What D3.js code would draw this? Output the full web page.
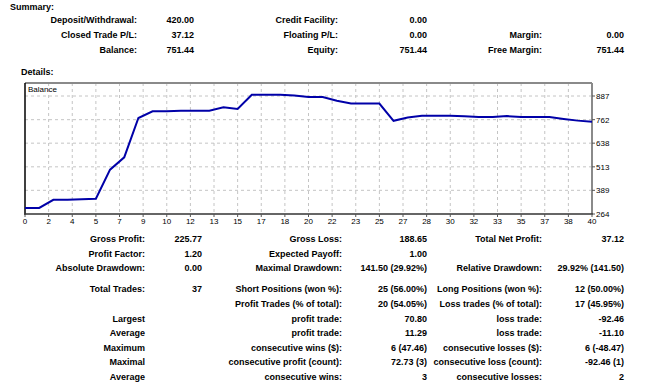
<!DOCTYPE html>
<html>
<head>
<meta charset="utf-8">
<script src="https://cdn.jsdelivr.net/npm/d3@7"></script>
<style>
  body { margin: 0; background: #fff; }
  svg text { font-family: "Liberation Sans", Arial, sans-serif; fill: #000; }
  .bold { font-weight: bold; font-size: 9px; }
  .axis { font-size: 8px; }
</style>
</head>
<body>
<div id="chart"></div>
<script>
// Balance curve (trade number, balance)
var trades  = [0, 1, 2, 3, 4, 5, 6, 7, 8, 9, 10, 11, 12, 13, 14, 15, 16, 17, 18, 19, 20,
               21, 22, 23, 24, 25, 26, 27, 28, 29, 30, 31, 32, 33, 34, 35, 36, 37, 38, 39, 40];
var balance = [296, 296, 339, 339, 342, 345, 498, 563, 771, 806, 806, 809, 809, 809, 827, 818, 894, 894, 894, 889, 882,
               882, 862, 847, 847, 847, 756, 774, 783, 783, 783, 780, 776, 776, 781, 776, 776, 776, 766, 757, 751.44];

// Axis tick labels
var xTickLabels = [0, 2, 4, 5, 7, 9, 10, 12, 13, 15, 17, 18, 20, 22, 23, 25, 27, 28, 30, 32, 33, 35, 37, 38, 40];
var yTickLabels = [264, 389, 513, 638, 762, 887];

// Summary rows: [label, value] for three column pairs
var summaryRows = [
  [["Deposit/Withdrawal:", "420.00"], ["Credit Facility:", "0.00"], ["", ""]],
  [["Closed Trade P/L:", "37.12"], ["Floating P/L:", "0.00"], ["Margin:", "0.00"]],
  [["Balance:", "751.44"], ["Equity:", "751.44"], ["Free Margin:", "751.44"]]
];

// Details table rows
var detailRows = [
  [["Gross Profit:", "225.77"], ["Gross Loss:", "188.65"], ["Total Net Profit:", "37.12"]],
  [["Profit Factor:", "1.20"], ["Expected Payoff:", "1.00"], ["", ""]],
  [["Absolute Drawdown:", "0.00"], ["Maximal Drawdown:", "141.50 (29.92%)"], ["Relative Drawdown:", "29.92% (141.50)"]],
  [["Total Trades:", "37"], ["Short Positions (won %):", "25 (56.00%)"], ["Long Positions (won %):", "12 (50.00%)"]],
  [["", ""], ["Profit Trades (% of total):", "20 (54.05%)"], ["Loss trades (% of total):", "17 (45.95%)"]],
  [["Largest", ""], ["profit trade:", "70.80"], ["loss trade:", "-92.46"]],
  [["Average", ""], ["profit trade:", "11.29"], ["loss trade:", "-11.10"]],
  [["Maximum", ""], ["consecutive wins ($):", "6 (47.46)"], ["consecutive losses ($):", "6 (-48.47)"]],
  [["Maximal", ""], ["consecutive profit (count):", "72.73 (3)"], ["consecutive loss (count):", "-92.46 (1)"]],
  [["Average", ""], ["consecutive wins:", "3"], ["consecutive losses:", "2"]]
];

var width = 650, height = 384;

var svg = d3.select("#chart")
  .append("svg")
    .attr("width", width)
    .attr("height", height);

svg.append("text").attr("class", "bold").attr("x", 10).attr("y", 10).text("Summary:");
svg.append("text").attr("class", "bold").attr("x", 21).attr("y", 75).text("Details:");

function drawTable(rows, rowY, colEdges) {
  rows.forEach(function(row, i) {
    row.forEach(function(cell, j) {
      svg.append("text").attr("class", "bold")
        .attr("x", colEdges[j][0]).attr("y", rowY[i])
        .attr("text-anchor", "end").text(cell[0]);
      svg.append("text").attr("class", "bold")
        .attr("x", colEdges[j][1]).attr("y", rowY[i])
        .attr("text-anchor", "end").text(cell[1]);
    });
  });
}

// column right edges: label end, value end
drawTable(summaryRows, [23, 38, 53], [[137, 194], [338, 427], [542, 624]]);
drawTable(detailRows, [241.5, 256.5, 271, 291.5, 306.5, 321.5, 336, 350.5, 365, 380],
          [[145, 202], [342, 427], [542, 624]]);

// Chart area
var chartLeft = 25, chartRight = 592, chartTop = 83, chartBottom = 214;

var x = d3.scaleLinear().domain([0, 40]).range([chartLeft, chartRight]);
var y = d3.scaleLinear().domain([264, 887]).range([chartBottom, 96]);

var g = svg.append("g");

// grid
var xStep = 40 / (xTickLabels.length - 1);
g.selectAll(".vgrid")
  .data(xTickLabels.slice(1, -1))
  .enter().append("line")
    .attr("x1", function(d, i) { return x((i + 1) * xStep); })
    .attr("x2", function(d, i) { return x((i + 1) * xStep); })
    .attr("y1", chartTop).attr("y2", chartBottom)
    .style("stroke", "#c4c4c4").style("stroke-dasharray", "3,3");

g.selectAll(".hgrid")
  .data(yTickLabels.slice(1))
  .enter().append("line")
    .attr("x1", chartLeft).attr("x2", chartRight)
    .attr("y1", function(d) { return y(d); })
    .attr("y2", function(d) { return y(d); })
    .style("stroke", "#c4c4c4").style("stroke-dasharray", "3,3");

// frame
g.append("line").attr("x1", chartLeft).attr("x2", chartRight).attr("y1", chartTop).attr("y2", chartTop)
  .style("stroke", "#8a8a8a").style("stroke-width", 2);
g.append("line").attr("x1", chartRight).attr("x2", chartRight).attr("y1", chartTop).attr("y2", chartBottom)
  .style("stroke", "#8a8a8a").style("stroke-width", 2);
g.append("line").attr("x1", chartLeft).attr("x2", chartLeft).attr("y1", chartTop).attr("y2", chartBottom + 1)
  .style("stroke", "#000").style("stroke-width", 1.5);
g.append("line").attr("x1", chartLeft).attr("x2", chartRight + 1).attr("y1", chartBottom).attr("y2", chartBottom)
  .style("stroke", "#333").style("stroke-width", 1.5);

// axis ticks and labels
g.selectAll(".xtick")
  .data(xTickLabels)
  .enter().append("line")
    .attr("x1", function(d, i) { return x(i * xStep); })
    .attr("x2", function(d, i) { return x(i * xStep); })
    .attr("y1", chartBottom).attr("y2", chartBottom + 3)
    .style("stroke", "#555");

g.selectAll(".xlabel")
  .data(xTickLabels)
  .enter().append("text")
    .attr("class", "axis")
    .attr("x", function(d, i) { return x(i * xStep); })
    .attr("y", chartBottom + 10)
    .attr("text-anchor", "middle")
    .text(function(d) { return d; });

g.selectAll(".ytick")
  .data(yTickLabels)
  .enter().append("line")
    .attr("x1", chartRight).attr("x2", chartRight + 3)
    .attr("y1", function(d) { return y(d); })
    .attr("y2", function(d) { return y(d); })
    .style("stroke", "#555");

g.selectAll(".ylabel")
  .data(yTickLabels)
  .enter().append("text")
    .attr("class", "axis")
    .attr("x", chartRight + 4)
    .attr("y", function(d) { return y(d) + 3; })
    .text(function(d) { return d; });

g.append("text").attr("class", "axis")
  .attr("x", chartLeft + 3).attr("y", chartTop + 9).text("Balance");

// balance line
var line = d3.line()
  .x(function(d, i) { return x(trades[i]); })
  .y(function(d) { return y(d); });

g.append("path")
  .datum(balance)
  .attr("d", line)
  .style("fill", "none")
  .style("stroke", "#0000a8")
  .style("stroke-width", 2);
</script>
</body>
</html>
